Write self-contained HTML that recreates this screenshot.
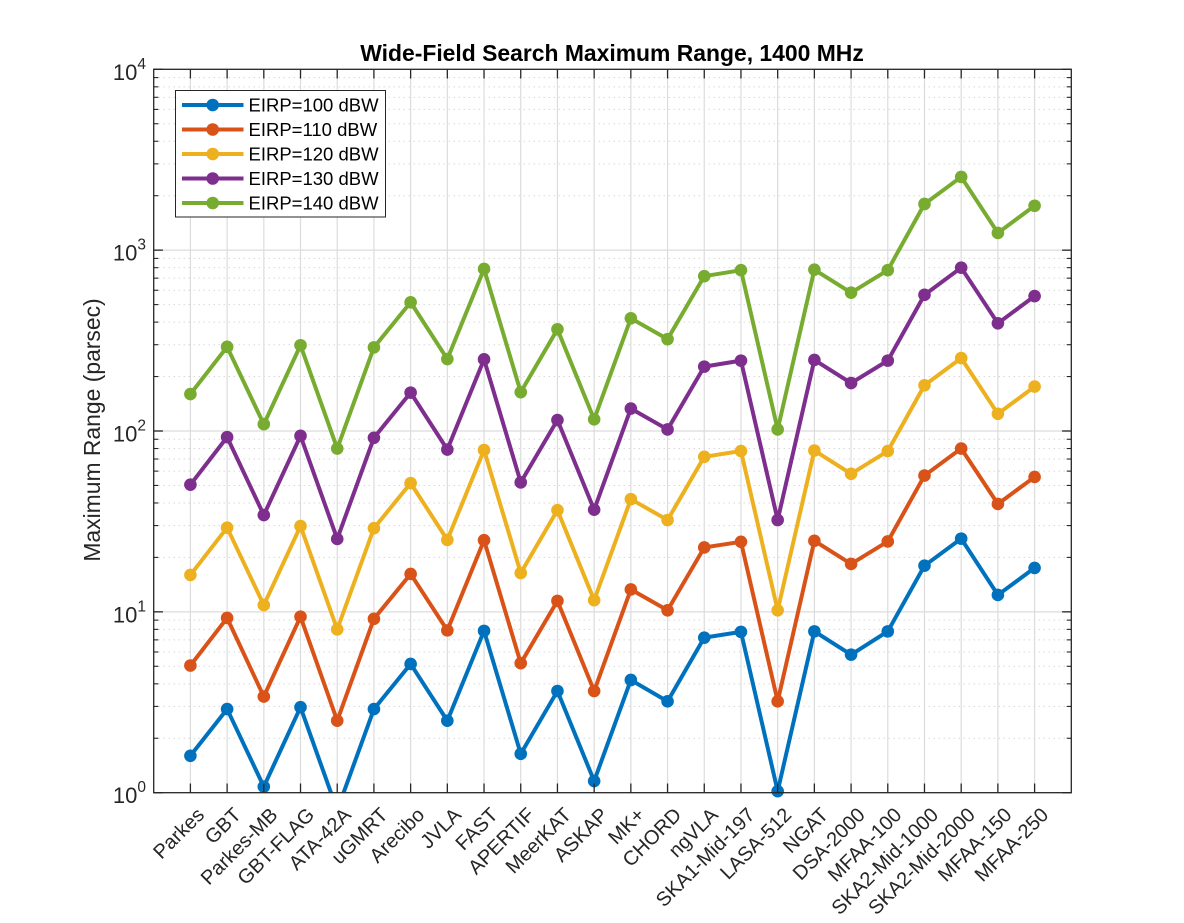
<!DOCTYPE html>
<html lang="en">
<head>
<meta charset="utf-8">
<title>Wide-Field Search Maximum Range, 1400 MHz</title>
<style>
  html, body { margin: 0; padding: 0; background: #fff; }
  svg { display: block; font-family: "Liberation Sans", Arial, sans-serif; }
</style>
</head>
<body>
<svg id="chart" xmlns="http://www.w3.org/2000/svg" width="1184" height="923" viewBox="0 0 1184 923">
  <rect width="1184" height="923" fill="#ffffff"/>
  <text x="612" y="61" text-anchor="middle" font-size="22.9" font-weight="bold" fill="#000">Wide-Field Search Maximum Range, 1400 MHz</text>
  <text transform="translate(100,430) rotate(-90)" text-anchor="middle" font-size="22.9" fill="#262626">Maximum Range (parsec)</text>
</svg>
<script>
const categories = ["Parkes","GBT","Parkes-MB","GBT-FLAG","ATA-42A","uGMRT","Arecibo","JVLA","FAST","APERTIF","MeerKAT","ASKAP","MK+","CHORD","ngVLA","SKA1-Mid-197","LASA-512","NGAT","DSA-2000","MFAA-100","SKA2-Mid-1000","SKA2-Mid-2000","MFAA-150","MFAA-250"];
const seriesNames = ["EIRP=100 dBW","EIRP=110 dBW","EIRP=120 dBW","EIRP=130 dBW","EIRP=140 dBW"];
const eirp100 = [1.6,2.9,1.08,2.97,0.8,2.9,5.15,2.5,7.85,1.64,3.65,1.16,4.2,3.2,7.2,7.75,1.02,7.8,5.8,7.8,18,25.4,12.4,17.5];
const eirp110 = [5.05,9.25,3.4,9.4,2.5,9.15,16.2,7.9,24.9,5.2,11.5,3.65,13.3,10.2,22.7,24.4,3.2,24.7,18.4,24.5,56.7,80,39.5,55.7];
const eirp120 = [16,29.2,10.9,29.8,8,29,51.5,25,78.5,16.4,36.5,11.6,42,32.2,72,77.5,10.2,78,58,77.5,179,253,124.5,176];
const eirp130 = [50.5,92.5,34.3,94,25.3,91.7,163,79,249,52,115,36.7,133,102,227,245,32.2,247,184,245,566,800,394,557];
const eirp140 = [160,292,109,298,80,290,515,250,787,164,365,116,420,322,718,775,102,780,582,775,1800,2540,1245,1760];
const seriesValues = [eirp100, eirp110, eirp120, eirp130, eirp140];
const seriesColors = ["#0072BD","#D95319","#EDB120","#7E2F8E","#77AC30"];
const yTickExponents = [0,1,2,3,4];
const minorMultipliers = [2,3,4,5,6,7,8,9];
const xMin = 0, xMax = 25, yMinExp = 0, yMaxExp = 4;

const L = 153.7, R = 1071.3, T = 69.3, B = 792.7;
const NS = "http://www.w3.org/2000/svg";
const svg = document.getElementById("chart");

function xScale(i) { return L + (i - xMin) / (xMax - xMin) * (R - L); }
function yScale(v) { return B - (Math.log10(v) - yMinExp) / (yMaxExp - yMinExp) * (B - T); }
function make(tag, attrs, parent) {
  const el = document.createElementNS(NS, tag);
  for (const k in attrs) el.setAttribute(k, attrs[k]);
  (parent || svg).appendChild(el);
  return el;
}

const defs = make("defs", {});
const clip = make("clipPath", { id: "plot-clip" }, defs);
make("rect", { x: L, y: T, width: R - L, height: B - T }, clip);

/* grid */
const grid = make("g", {});


yTickExponents.forEach(function (e) {
  if (e < yMaxExp) {
    minorMultipliers.forEach(function (m) {
      const y = yScale(m * Math.pow(10, e));
      const line = make("line", { x1: L, x2: R, y1: y, y2: y, stroke: "#c6c6c6", "stroke-width": 1, "stroke-dasharray": "1 4" }, grid);
      
      
    });
  }
  if (e > yMinExp && e < yMaxExp) {
    const y = yScale(Math.pow(10, e));
    const line = make("line", { x1: L, x2: R, y1: y, y2: y, stroke: "#dcdcdc", "stroke-width": 1.2 }, grid);
    
    
  }
});
categories.forEach(function (c, i) {
  const x = xScale(i + 1);
  const line = make("line", { x1: x, x2: x, y1: T, y2: B, stroke: "#dcdcdc", "stroke-width": 1.2 }, grid);
  
  
});

/* series */
seriesValues.forEach(function (values, s) {
  const g = make("g", {});
  
  
  const pts = values.map(function (v, i) { return xScale(i + 1).toFixed(2) + "," + yScale(v).toFixed(2); }).join(" ");
  const line = make("polyline", { points: pts, fill: "none", stroke: seriesColors[s], "stroke-width": 4, "stroke-linejoin": "round", "clip-path": "url(#plot-clip)" }, g);
  
  
  values.forEach(function (v, i) {
    const cy = yScale(v);
    if (cy > B) return;
    const dot = make("circle", { cx: xScale(i + 1), cy: cy, r: 6.3, fill: seriesColors[s] }, g);
    
    
  });
});

/* axes box and ticks */
const axes = make("g", { stroke: "#262626", "stroke-width": 1.3, fill: "none" });


const box = make("rect", { x: L, y: T, width: R - L, height: B - T }, axes);


const tickLen = 9.2, minorLen = 4.6;
categories.forEach(function (c, i) {
  const x = xScale(i + 1);
  make("line", { x1: x, x2: x, y1: B, y2: B - tickLen }, axes);
  make("line", { x1: x, x2: x, y1: T, y2: T + tickLen }, axes);
});
yTickExponents.forEach(function (e) {
  const y = yScale(Math.pow(10, e));
  make("line", { x1: L, x2: L + tickLen, y1: y, y2: y }, axes);
  make("line", { x1: R, x2: R - tickLen, y1: y, y2: y }, axes);
  if (e < yMaxExp) {
    minorMultipliers.forEach(function (m) {
      const my = yScale(m * Math.pow(10, e));
      make("line", { x1: L, x2: L + minorLen, y1: my, y2: my, "stroke-width": 1.1 }, axes);
      make("line", { x1: R, x2: R - minorLen, y1: my, y2: my, "stroke-width": 1.1 }, axes);
    });
  }
});

/* y tick labels */
yTickExponents.forEach(function (e) {
  const y = yScale(Math.pow(10, e));
  const t = make("text", { x: 146, y: y + 10.5, "text-anchor": "end", "font-size": 22, fill: "#262626" });
  
  
  const base = make("tspan", {}, t);
  base.textContent = "10";
  const sup = make("tspan", { dy: -11, "font-size": 15.5 }, t);
  sup.textContent = String(e);
});

/* x tick labels */
categories.forEach(function (c, i) {
  const x = xScale(i + 1) + 15;
  const y = 816;
  const t = make("text", { x: x, y: y, "text-anchor": "end", "font-size": 20, fill: "#262626", transform: "rotate(-45 " + x + " " + y + ")" });
  
  
  t.textContent = c;
});

/* legend */
const legend = make("g", {});


const legendBox = make("rect", { x: 175.5, y: 90.5, width: 210, height: 126.5, fill: "#fff", stroke: "#262626", "stroke-width": 1 }, legend);


seriesNames.forEach(function (name, s) {
  const y = 105 + s * 24.5;
  const entry = make("g", {}, legend);
  
  
  make("line", { x1: 182, x2: 243.5, y1: y, y2: y, stroke: seriesColors[s], "stroke-width": 4 }, entry);
  make("circle", { cx: 212.7, cy: y, r: 6.3, fill: seriesColors[s] }, entry);
  const t = make("text", { x: 248.5, y: y + 6.5, "font-size": 18.5, fill: "#000" }, entry);
  t.textContent = name;
});
</script>
</body>
</html>
